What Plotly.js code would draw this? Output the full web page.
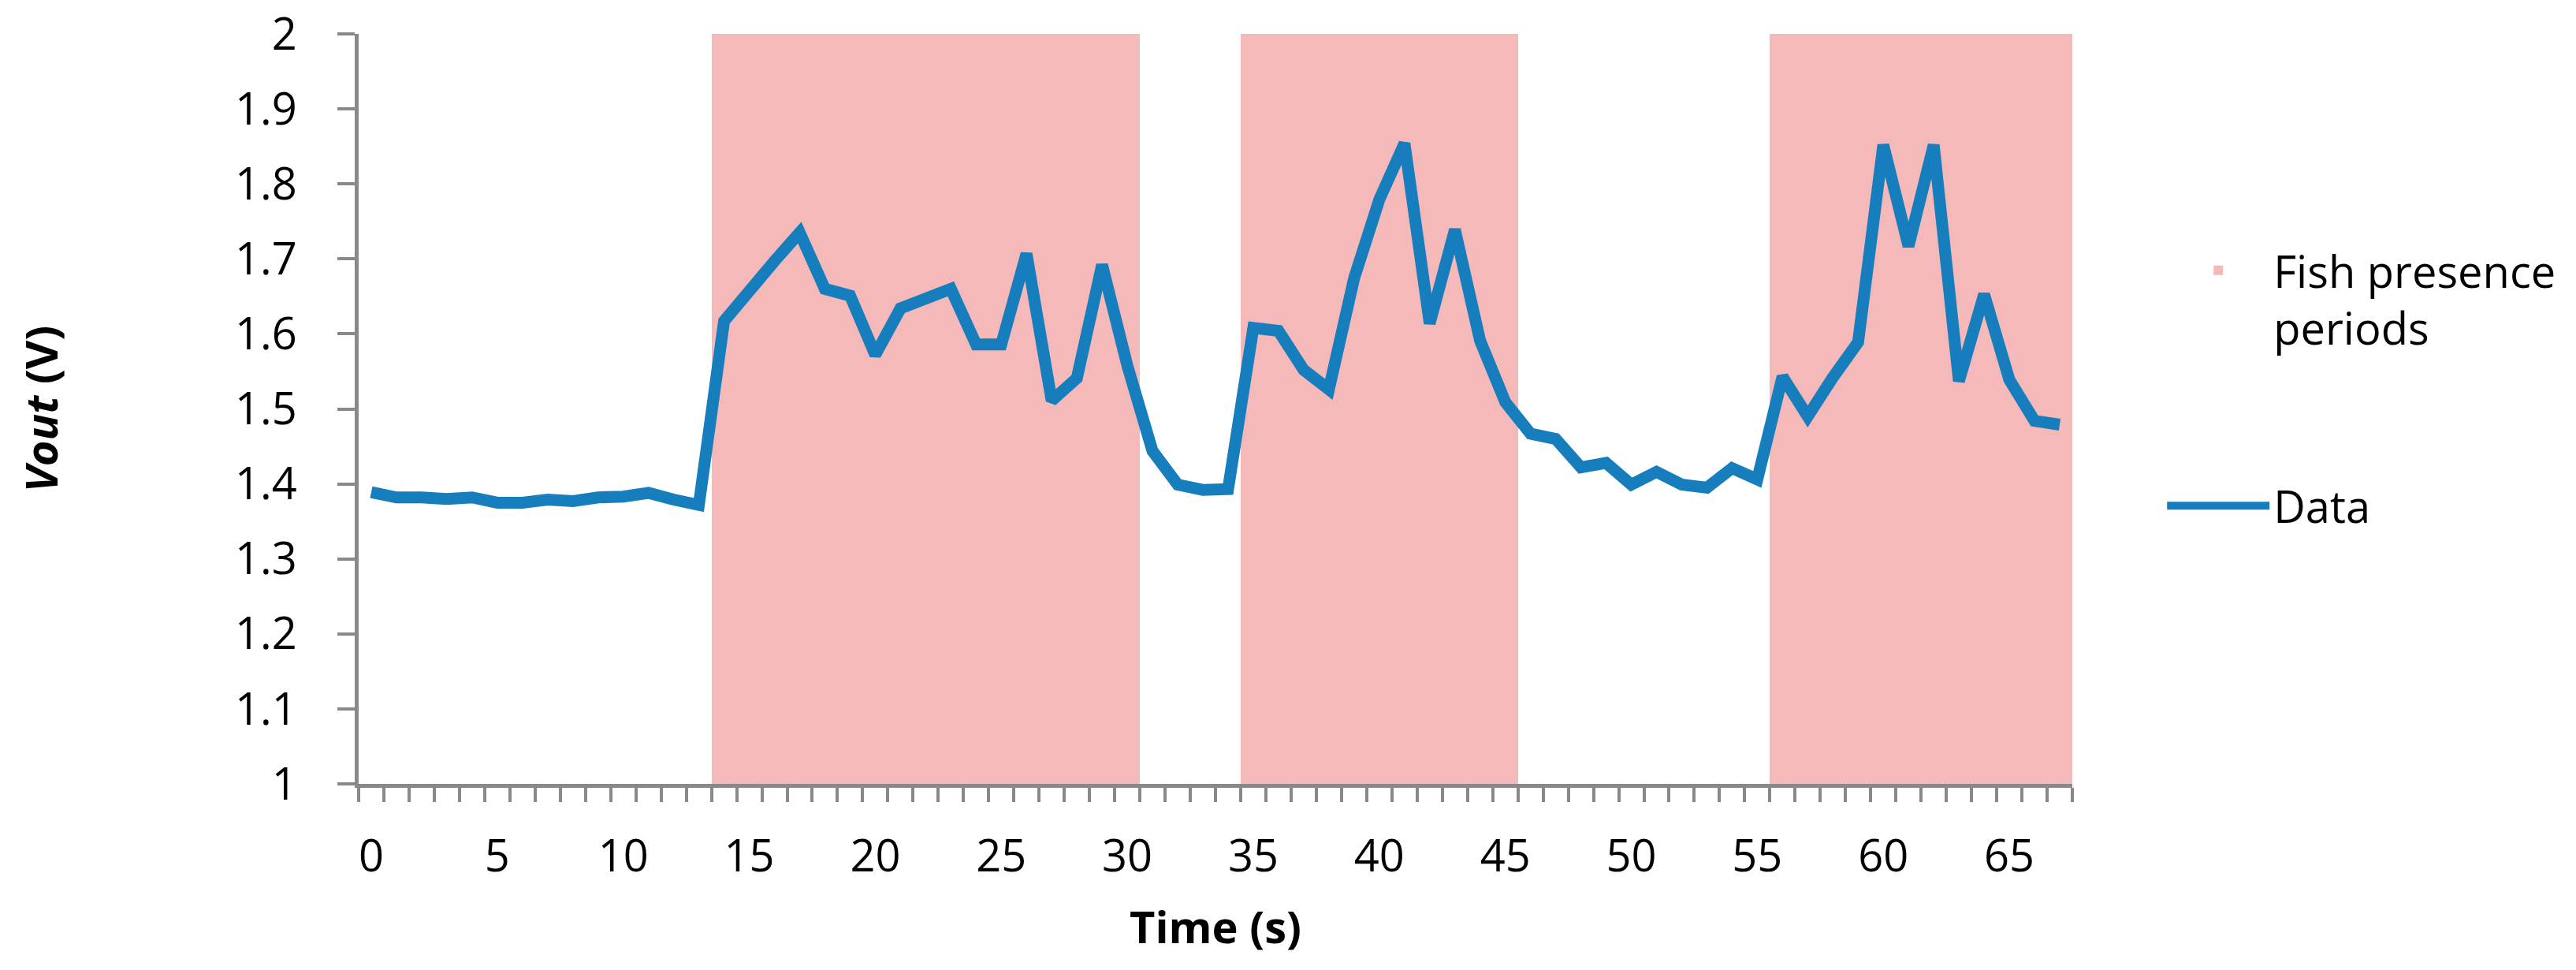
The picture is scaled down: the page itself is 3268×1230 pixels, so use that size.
<!DOCTYPE html>
<html>
<head>
<meta charset="utf-8">
<script src="https://cdn.plot.ly/plotly-3.0.1.min.js"></script>
<style>
  html, body { margin: 0; padding: 0; background: #fff; }
  #chart { width: 3268px; height: 1230px; }
</style>
</head>
<body>
<div id="chart"></div>
<script>
// time in seconds (one sample per second)
var timeSec = [];
for (var t = 0; t <= 67; t++) timeSec.push(t);

var vout = [1.389, 1.382, 1.382, 1.380, 1.382, 1.375, 1.375, 1.379, 1.377, 1.382,
            1.383, 1.388, 1.379, 1.372, 1.617, 1.660, 1.697, 1.735, 1.660, 1.651,
            1.572, 1.634, 1.647, 1.660, 1.586, 1.586, 1.707, 1.511, 1.541, 1.692,
            1.558, 1.444, 1.399, 1.392, 1.393, 1.608, 1.604, 1.552, 1.526, 1.674,
            1.779, 1.854, 1.614, 1.739, 1.591, 1.509, 1.467, 1.460, 1.422, 1.428,
            1.399, 1.416, 1.399, 1.395, 1.421, 1.406, 1.543, 1.490, 1.542, 1.589,
            1.852, 1.717, 1.852, 1.537, 1.653, 1.539, 1.484, 1.479];

// fish presence: column height 2 while a fish is there, 0 otherwise
var fishLevel = [0, 0, 0, 0, 0, 0, 0, 0, 0, 0,
                 0, 0, 0, 0, 2, 2, 2, 2, 2, 2,
                 2, 2, 2, 2, 2, 2, 2, 2, 2, 2,
                 2, 0, 0, 0, 0, 2, 2, 2, 2, 2,
                 2, 2, 2, 2, 2, 2, 0, 0, 0, 0,
                 0, 0, 0, 0, 0, 0, 2, 2, 2, 2,
                 2, 2, 2, 2, 2, 2, 2, 2];

var xTicks = [0, 5, 10, 15, 20, 25, 30, 35, 40, 45, 50, 55, 60, 65];

var font = 'Open Sans, Noto Sans, sans-serif';
var axisGrey = '#898989';

var fish = {
  type: 'bar',
  name: 'Fish presence<br>periods',
  legendgroup: 'a',
  x: timeSec,
  y: fishLevel,
  marker: {color: '#F4B9B8', line: {width: 0}},
  hoverinfo: 'skip'
};

var data = {
  type: 'scatter',
  mode: 'lines',
  name: 'Data',
  legendgroup: 'b',
  x: timeSec,
  y: vout,
  line: {color: '#177EBE', width: 15}
};

var layout = {
  width: 3268,
  height: 1230,
  margin: {l: 455, r: 639, t: 43, b: 236},
  paper_bgcolor: '#fff',
  plot_bgcolor: '#fff',
  bargap: 0,
  showlegend: true,
  font: {family: font, size: 56, color: '#000'},
  xaxis: {
    range: [-0.5, 67.5],
    showgrid: false,
    zeroline: false,
    showline: true,
    linecolor: axisGrey,
    linewidth: 5,
    tickmode: 'array',
    tickvals: xTicks,
    ticktext: xTicks.map(String),
    ticks: 'outside',
    ticklen: 39,
    tickcolor: 'rgba(0,0,0,0)',
    tickfont: {family: font, size: 56, color: '#000'},
    minor: {
      ticks: 'outside',
      tick0: 0.5,
      dtick: 1,
      ticklen: 18,
      tickwidth: 4,
      tickcolor: axisGrey,
      showgrid: false
    },
    title: {
      text: '<b>Time (s)</b>',
      font: {family: font, size: 56, color: '#000'},
      standoff: 38
    }
  },
  yaxis: {
    range: [1, 2],
    dtick: 0.1,
    tick0: 1,
    showgrid: false,
    zeroline: false,
    showline: true,
    linecolor: axisGrey,
    linewidth: 5,
    ticks: 'outside',
    ticklen: 22,
    tickwidth: 4,
    tickcolor: axisGrey,
    ticklabelstandoff: 40,
    tickfont: {family: font, size: 56, color: '#000'},
    title: {
      text: '<b><i>Vout</i> (V)</b>',
      font: {family: font, size: 56, color: '#000'},
      standoff: 208
    }
  },
  legend: {
    x: 1.053,
    xanchor: 'left',
    y: 0.73,
    yanchor: 'top',
    traceorder: 'grouped',
    tracegroupgap: 150,
    itemwidth: 130,
    valign: 'top',
    font: {family: font, size: 56, color: '#000'},
    bgcolor: 'rgba(0,0,0,0)'
  }
};

Plotly.newPlot('chart', [fish, data], layout, {displayModeBar: false, staticPlot: true});
</script>
</body>
</html>
